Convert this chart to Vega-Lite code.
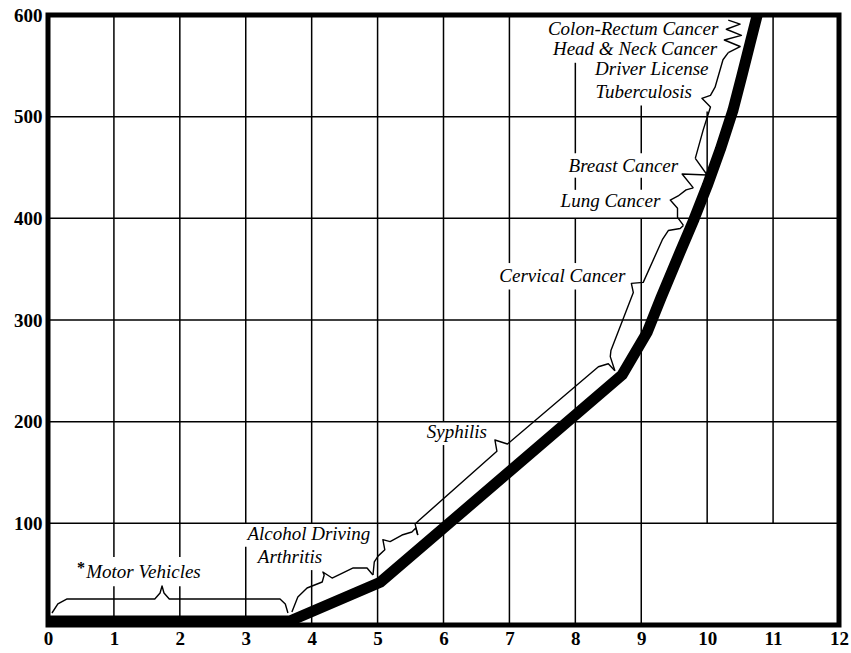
{
  "$schema": "https://vega.github.io/schema/vega-lite/v6.json",
  "width": 791,
  "height": 610,
  "autosize": {"type": "none"},
  "padding": {"left": 48, "top": 15, "right": 12, "bottom": 28},
  "background": "white",
  "view": {"stroke": "black", "strokeWidth": 5},
  "datasets": {
    "grid": [
      {"x": 1, "x2": 1, "y": 0, "y2": 38}, {"x": 1, "x2": 1, "y": 67, "y2": 600},
      {"x": 2, "x2": 2, "y": 0, "y2": 38}, {"x": 2, "x2": 2, "y": 67, "y2": 600},
      {"x": 3, "x2": 3, "y": 0, "y2": 77}, {"x": 3, "x2": 3, "y": 100, "y2": 600},
      {"x": 4, "x2": 4, "y": 0, "y2": 54}, {"x": 4, "x2": 4, "y": 100, "y2": 600},
      {"x": 5, "x2": 5, "y": 0, "y2": 600},
      {"x": 6, "x2": 6, "y": 0, "y2": 177}, {"x": 6, "x2": 6, "y": 200, "y2": 600},
      {"x": 7, "x2": 7, "y": 0, "y2": 330}, {"x": 7, "x2": 7, "y": 356, "y2": 600},
      {"x": 8, "x2": 8, "y": 0, "y2": 330}, {"x": 8, "x2": 8, "y": 356, "y2": 400}, {"x": 8, "x2": 8, "y": 428, "y2": 440}, {"x": 8, "x2": 8, "y": 464, "y2": 553},
      {"x": 9, "x2": 9, "y": 0, "y2": 400}, {"x": 9, "x2": 9, "y": 428, "y2": 440}, {"x": 9, "x2": 9, "y": 464, "y2": 511},
      {"x": 10, "x2": 10, "y": 100, "y2": 505},
      {"x": 11, "x2": 11, "y": 100, "y2": 600},
      {"x": 0, "x2": 12, "y": 100, "y2": 100},
      {"x": 0, "x2": 12, "y": 200, "y2": 200},
      {"x": 0, "x2": 12, "y": 300, "y2": 300},
      {"x": 0, "x2": 12, "y": 400, "y2": 400},
      {"x": 0, "x2": 12, "y": 500, "y2": 500}
    ],
    "main": [
      {"x": 0, "y": 4}, {"x": 3.67, "y": 4}, {"x": 5.04, "y": 42}, {"x": 8.71, "y": 246},
      {"x": 9.09, "y": 288}, {"x": 9.3, "y": 322}, {"x": 9.59, "y": 367}, {"x": 9.8, "y": 399},
      {"x": 10.0, "y": 432}, {"x": 10.2, "y": 468}, {"x": 10.39, "y": 506}, {"x": 10.53, "y": 541},
      {"x": 10.65, "y": 572}, {"x": 10.76, "y": 600}, {"x": 10.8, "y": 615}
    ],
    "braces": [
      {"b": "mv", "o": 1, "x": 0.06, "y": 11.8}, {"b": "mv", "o": 2, "x": 0.15, "y": 20.7}, {"b": "mv", "o": 3, "x": 0.29, "y": 25.6},
      {"b": "mv", "o": 4, "x": 1.62, "y": 25.6}, {"b": "mv", "o": 5, "x": 1.7, "y": 31.5}, {"b": "mv", "o": 6, "x": 1.73, "y": 38.4},
      {"b": "mv", "o": 7, "x": 1.76, "y": 31.5}, {"b": "mv", "o": 8, "x": 1.84, "y": 25.6}, {"b": "mv", "o": 9, "x": 3.52, "y": 25.6},
      {"b": "mv", "o": 10, "x": 3.6, "y": 20.7}, {"b": "mv", "o": 11, "x": 3.64, "y": 11.8},
      {"b": "ar", "o": 1, "x": 3.7, "y": 12.8}, {"b": "ar", "o": 2, "x": 3.79, "y": 27.5}, {"b": "ar", "o": 3, "x": 3.93, "y": 36.4},
      {"b": "ar", "o": 4, "x": 4.16, "y": 42.3}, {"b": "ar", "o": 5, "x": 4.19, "y": 49.2}, {"b": "ar", "o": 6, "x": 4.17, "y": 52.1},
      {"b": "ar", "o": 7, "x": 4.31, "y": 46.2}, {"b": "ar", "o": 8, "x": 4.63, "y": 56.1}, {"b": "ar", "o": 9, "x": 4.84, "y": 56.1},
      {"b": "ar", "o": 10, "x": 4.93, "y": 49.2},
      {"b": "ad", "o": 1, "x": 4.93, "y": 49.2}, {"b": "ad", "o": 2, "x": 4.95, "y": 62}, {"b": "ad", "o": 3, "x": 5.01, "y": 68},
      {"b": "ad", "o": 4, "x": 5.11, "y": 74}, {"b": "ad", "o": 5, "x": 5.08, "y": 84}, {"b": "ad", "o": 6, "x": 5.19, "y": 82},
      {"b": "ad", "o": 7, "x": 5.37, "y": 88.5}, {"b": "ad", "o": 8, "x": 5.52, "y": 91.5}, {"b": "ad", "o": 9, "x": 5.58, "y": 95.4},
      {"b": "ad", "o": 10, "x": 5.61, "y": 88.5},
      {"b": "sy", "o": 1, "x": 5.61, "y": 88.5}, {"b": "sy", "o": 2, "x": 5.57, "y": 99.3}, {"b": "sy", "o": 3, "x": 5.63, "y": 103},
      {"b": "sy", "o": 4, "x": 6.81, "y": 171}, {"b": "sy", "o": 5, "x": 6.78, "y": 182}, {"b": "sy", "o": 6, "x": 6.97, "y": 178},
      {"b": "sy", "o": 7, "x": 8.35, "y": 254}, {"b": "sy", "o": 8, "x": 8.5, "y": 257}, {"b": "sy", "o": 9, "x": 8.6, "y": 250},
      {"b": "cc", "o": 1, "x": 8.6, "y": 250}, {"b": "cc", "o": 2, "x": 8.53, "y": 264}, {"b": "cc", "o": 3, "x": 8.54, "y": 270},
      {"b": "cc", "o": 4, "x": 8.88, "y": 327}, {"b": "cc", "o": 5, "x": 8.85, "y": 336}, {"b": "cc", "o": 6, "x": 9.03, "y": 337},
      {"b": "cc", "o": 7, "x": 9.32, "y": 379}, {"b": "cc", "o": 8, "x": 9.41, "y": 388}, {"b": "cc", "o": 9, "x": 9.59, "y": 390},
      {"b": "cc", "o": 10, "x": 9.64, "y": 393},
      {"b": "lc", "o": 1, "x": 9.64, "y": 393}, {"b": "lc", "o": 2, "x": 9.55, "y": 401}, {"b": "lc", "o": 3, "x": 9.55, "y": 410},
      {"b": "lc", "o": 4, "x": 9.44, "y": 418}, {"b": "lc", "o": 5, "x": 9.56, "y": 422}, {"b": "lc", "o": 6, "x": 9.68, "y": 428},
      {"b": "lc", "o": 7, "x": 9.79, "y": 430},
      {"b": "bc", "o": 1, "x": 9.79, "y": 430}, {"b": "bc", "o": 2, "x": 9.62, "y": 443.6}, {"b": "bc", "o": 3, "x": 10.0, "y": 442.6},
      {"b": "bc", "o": 4, "x": 9.82, "y": 459},
      {"b": "tb", "o": 1, "x": 9.82, "y": 459}, {"b": "tb", "o": 2, "x": 9.94, "y": 487}, {"b": "tb", "o": 3, "x": 10.05, "y": 509.5},
      {"b": "tb", "o": 4, "x": 9.92, "y": 518}, {"b": "tb", "o": 5, "x": 10.05, "y": 521}, {"b": "tb", "o": 6, "x": 10.12, "y": 529},
      {"b": "tb", "o": 7, "x": 10.24, "y": 556}, {"b": "tb", "o": 8, "x": 10.32, "y": 563},
      {"b": "hn", "o": 1, "x": 10.32, "y": 563}, {"b": "hn", "o": 2, "x": 10.5, "y": 569}, {"b": "hn", "o": 3, "x": 10.26, "y": 575.4},
      {"b": "hn", "o": 4, "x": 10.52, "y": 580}, {"b": "hn", "o": 5, "x": 10.29, "y": 586}, {"b": "hn", "o": 6, "x": 10.5, "y": 591},
      {"b": "hn", "o": 7, "x": 10.32, "y": 595}
    ],
    "labels": [
      {"label": "Colon-Rectum Cancer", "x": 10.17, "y": 580, "side": "r"},
      {"label": "Head & Neck Cancer", "x": 10.15, "y": 560.6, "side": "r"},
      {"label": "Driver License", "x": 10.02, "y": 541, "side": "r"},
      {"label": "Tuberculosis", "x": 9.77, "y": 518, "side": "r"},
      {"label": "Breast Cancer", "x": 9.56, "y": 445.6, "side": "r"},
      {"label": "Lung Cancer", "x": 9.29, "y": 411, "side": "r"},
      {"label": "Cervical Cancer", "x": 8.76, "y": 337, "side": "r"},
      {"label": "Syphilis", "x": 6.66, "y": 184, "side": "r"},
      {"label": "Alcohol Driving", "x": 4.89, "y": 83.6, "side": "r"},
      {"label": "Arthritis", "x": 4.16, "y": 61, "side": "r"},
      {"label": "Motor Vehicles", "x": 0.58, "y": 46, "side": "l"}
    ],
    "star": [{"label": "*", "x": 0.44, "y": 51}]
  },
  "encoding": {
    "x": {"field": "x", "type": "quantitative", "scale": {"domain": [0, 12], "nice": false, "zero": false},
          "axis": {"values": [0,1,2,3,4,5,6,7,8,9,10,11,12], "labelPadding": 4, "labelFlush": false,
                   "labelFont": "Liberation Serif", "labelFontWeight": "bold", "labelFontSize": 19, "labelColor": "black",
                   "domain": false, "ticks": false, "grid": false, "title": null}},
    "y": {"field": "y", "type": "quantitative", "scale": {"domain": [0, 600], "nice": false, "zero": false},
          "axis": {"values": [100,200,300,400,500,600], "labelPadding": 6,
                   "labelFont": "Liberation Serif", "labelFontWeight": "bold", "labelFontSize": 19, "labelColor": "black",
                   "domain": false, "ticks": false, "grid": false, "title": null}}
  },
  "layer": [
    {
      "data": {"name": "grid"},
      "mark": {"type": "rule", "color": "black", "strokeWidth": 1.5},
      "encoding": {"x2": {"field": "x2"}, "y2": {"field": "y2"}}
    },
    {
      "data": {"name": "braces"},
      "mark": {"type": "line", "color": "black", "strokeWidth": 1.4, "strokeJoin": "round"},
      "encoding": {"detail": {"field": "b"}, "order": {"field": "o", "type": "quantitative"}}
    },
    {
      "data": {"name": "main"},
      "mark": {"type": "line", "color": "black", "strokeWidth": 11, "clip": true, "strokeJoin": "round"},
      "encoding": {}
    },
    {
      "data": {"name": "labels"},
      "transform": [{"filter": "datum.side == 'r'"}],
      "mark": {"type": "text", "align": "right", "baseline": "alphabetic", "font": "Liberation Serif", "fontStyle": "italic", "fontSize": 19, "color": "black"},
      "encoding": {"text": {"field": "label"}}
    },
    {
      "data": {"name": "labels"},
      "transform": [{"filter": "datum.side == 'l'"}],
      "mark": {"type": "text", "align": "left", "baseline": "alphabetic", "font": "Liberation Serif", "fontStyle": "italic", "fontSize": 19, "color": "black"},
      "encoding": {"text": {"field": "label"}}
    },
    {
      "data": {"name": "star"},
      "mark": {"type": "text", "align": "left", "baseline": "alphabetic", "font": "Liberation Serif", "fontWeight": "bold", "fontSize": 16, "color": "black"},
      "encoding": {"text": {"field": "label"}}
    }
  ]
}
